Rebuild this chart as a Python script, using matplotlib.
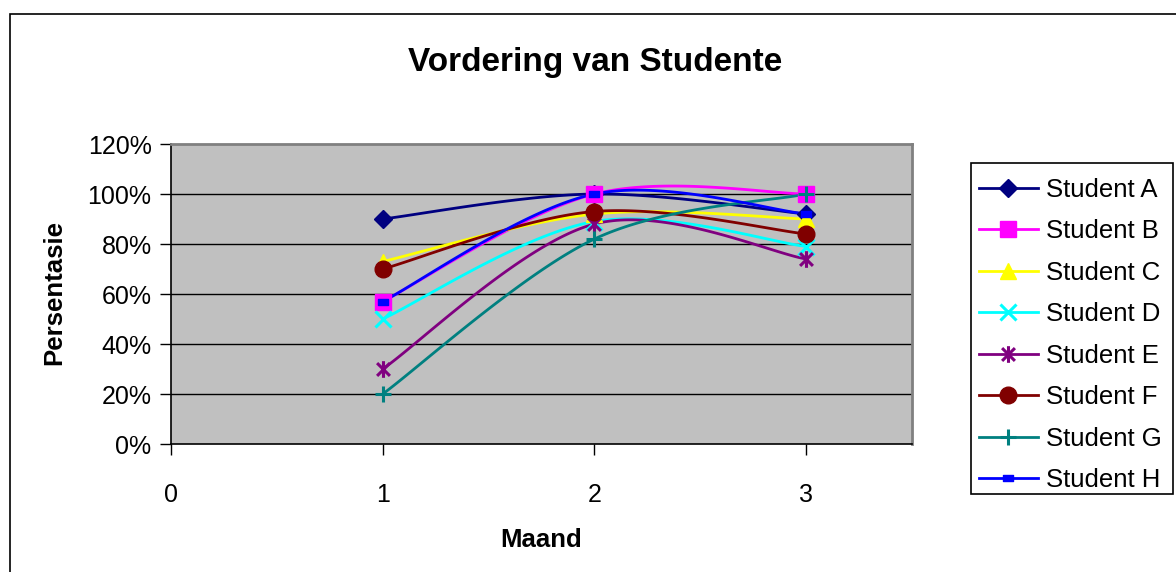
import numpy as np
import matplotlib
matplotlib.use("Agg")
import matplotlib.pyplot as plt
from matplotlib.path import Path
from matplotlib.patches import Rectangle

plt.rcParams['font.family'] = ['Liberation Sans', 'DejaVu Sans']

# Data
months = [1, 2, 3]
student_a = [90, 100, 92]
student_b = [57, 100, 100]
student_c = [73, 92, 90]
student_d = [50, 89, 79]
student_e = [30, 88, 74]
student_f = [70, 93, 84]
student_g = [20, 82, 100]
student_h = [57, 100, 92]
labels = ["Student A", "Student B", "Student C", "Student D",
          "Student E", "Student F", "Student G", "Student H"]
series = [student_a, student_b, student_c, student_d,
          student_e, student_f, student_g, student_h]
x_ticks = [0, 1, 2, 3]
y_ticks = [0, 20, 40, 60, 80, 100, 120]

# Marker shapes
asterisk = Path([(-1, -1), (1, 1), (-1, 1), (1, -1), (0, -1.3), (0, 1.3)],
                [Path.MOVETO, Path.LINETO, Path.MOVETO, Path.LINETO,
                 Path.MOVETO, Path.LINETO])
dash_box = Path([(-1, -0.55), (1, -0.55), (1, 0.55), (-1, 0.55), (-1, -0.55)],
                [Path.MOVETO, Path.LINETO, Path.LINETO, Path.LINETO, Path.CLOSEPOLY])

styles = [
    dict(color="#000080", marker="D", ms=9, mfc="#000080", mec="#000080"),
    dict(color="#FF00FF", marker="s", ms=11, mfc="#FF00FF", mec="#FF00FF"),
    dict(color="#FFFF00", marker="^", ms=11, mfc="#FFFF00", mec="#FFFF00"),
    dict(color="#00FFFF", marker="x", ms=11, mew=2.2, mec="#00FFFF"),
    dict(color="#800080", marker=asterisk, ms=12, mew=2.2, mec="#800080", mfc="none"),
    dict(color="#800000", marker="o", ms=12, mfc="#800000", mec="#800000"),
    dict(color="#008080", marker="+", ms=12, mew=2.2, mec="#008080"),
    dict(color="#0000FF", marker=dash_box, ms=7, mfc="#0000FF", mec="#0000FF"),
]


def smooth(xs, ys, n=60):
    """Cubic Bezier smoothing through the points (Catmull-Rom tangents)."""
    pts = np.column_stack([xs, ys]).astype(float)
    ext = np.vstack([pts[0], pts, pts[-1]])
    out = []
    t = np.linspace(0, 1, n)[:, None]
    for i in range(len(pts) - 1):
        p0, p3 = pts[i], pts[i + 1]
        c1 = p0 + (ext[i + 2] - ext[i]) / 6.0
        c2 = p3 - (ext[i + 3] - ext[i + 1]) / 6.0
        seg = ((1 - t) ** 3) * p0 + 3 * ((1 - t) ** 2) * t * c1 \
            + 3 * (1 - t) * t ** 2 * c2 + t ** 3 * p3
        out.append(seg if i == 0 else seg[1:])
    out = np.vstack(out)
    return out[:, 0], out[:, 1]


W, H = 1176, 572
fig = plt.figure(figsize=(W / 100, H / 100), dpi=100)
fig.patch.set_facecolor("white")

# Outer chart frame
fig.add_artist(Rectangle((10 / W, -0.05), 1.2, 1 - 14 / H + 0.05,
                         transform=fig.transFigure, fill=False,
                         edgecolor="black", linewidth=1.2))

ax = fig.add_axes([171 / W, 1 - 444 / H, (912 - 171) / W, 300 / H])
ax.set_facecolor("#C0C0C0")
ax.set_xlim(0, 3.5)
ax.set_ylim(0, 120)

for yv in y_ticks[1:-1]:
    ax.axhline(yv, color="#000000", lw=1.0, zorder=1)

handles = []
for vals, lab, st in zip(series, labels, styles):
    sx, sy = smooth(months, vals)
    ax.plot(sx, sy, color=st["color"], lw=2.0, zorder=3, solid_capstyle="round")
    kw = {k: v for k, v in st.items() if k != "color"}
    ax.plot(months, vals, linestyle="none", zorder=4, **kw)
    h, = ax.plot([], [], color=st["color"], lw=2.0, **kw)
    h.set_label(lab)
    handles.append(h)

ax.set_xticks(x_ticks)
ax.set_xticklabels([str(v) for v in x_ticks])
ax.set_yticks(y_ticks)
ax.set_yticklabels([f"{v}%" for v in y_ticks])
ax.tick_params(axis="both", direction="out", length=8, width=1, color="black",
               labelsize=18, pad=6)
ax.tick_params(axis="x", pad=20)

for side in ("top", "right"):
    ax.spines[side].set_color("#808080")
    ax.spines[side].set_linewidth(2)
for side in ("left", "bottom"):
    ax.spines[side].set_color("black")
    ax.spines[side].set_linewidth(1.2)

fig.text(0.506, 1 - 63 / H, "Vordering van Studente", ha="center", va="center",
         fontsize=24, fontweight="bold")
fig.text(541 / W, 1 - 540 / H, "Maand", ha="center", va="center",
         fontsize=18.5, fontweight="bold")
fig.text(54 / W, 1 - 293 / H, "Persentasie", ha="center", va="center",
         rotation=90, fontsize=18.5, fontweight="bold")

# Legend box with its entries
fig.add_artist(Rectangle((971 / W, 1 - 494 / H), (1173 - 971) / W, (494 - 163) / H,
                         transform=fig.transFigure, facecolor="white",
                         edgecolor="black", linewidth=1.2, zorder=5))
leg = fig.legend(handles=handles, loc="upper left",
                 bbox_to_anchor=(971 / W, 1 - 170 / H),
                 bbox_transform=fig.transFigure,
                 fontsize=18.5, frameon=False,
                 handlelength=2.3, handletextpad=0.3, labelspacing=0.68,
                 borderpad=0.3, borderaxespad=0, markerscale=1.0)
leg.set_zorder(6)

fig.savefig("out.png", dpi=100)
